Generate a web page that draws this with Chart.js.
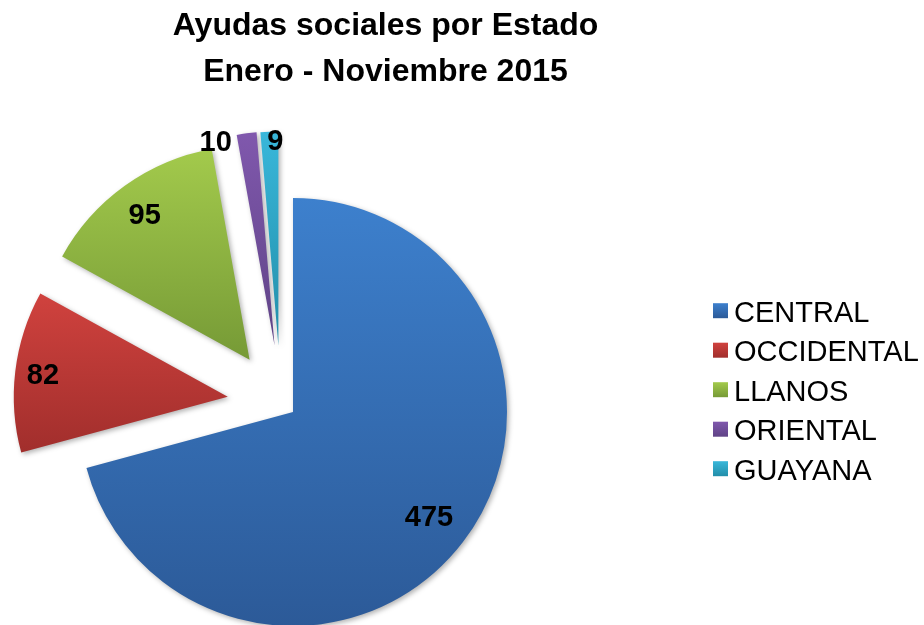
<!DOCTYPE html>
<html>
<head>
<meta charset="utf-8">
<title>Ayudas sociales por Estado</title>
<script src="https://cdn.jsdelivr.net/npm/chart.js@4.4.0/dist/chart.umd.min.js"></script>
<style>
  html, body { margin: 0; padding: 0; background: #fff; }
  #wrap { position: relative; width: 924px; height: 625px; }
</style>
</head>
<body>
<div id="wrap"><canvas id="pie-chart"></canvas></div>
<script>
// data
const regions = ['CENTRAL', 'OCCIDENTAL', 'LLANOS', 'ORIENTAL', 'GUAYANA'];
const ayudas = [475, 82, 95, 10, 9];
const titleLines = ['Ayudas sociales por Estado', 'Enero - Noviembre 2015'];

// gradient fill: lighter on top, darker at the bottom
const colorsTop = ['#3d80cd', '#d0423e', '#a3ca4c', '#8058ad', '#39b7da'];
const colorsBottom = ['#2c5a98', '#a12e2c', '#769a36', '#5f4386', '#228ea9'];

// exploded slices: distance in px and a small tilt in degrees
const explodeDist = [0, 67, 68, 69, 68];
const explodeTilt = [0, 6.4, -4, -8, -10];

// where the value labels sit (fraction of the radius, and which edge)
const labelRadius = [0.80, 0.87, 0.84, 0.97, 0.96];
const labelAnchor = ['mid', 'mid', 'mid', 'start', 'end'];

const fontFamily = '"Liberation Sans", Arial, sans-serif';

const excelPie = {
    id: 'excelPie',
    afterDatasetUpdate(chart, args) {
        args.meta.data.forEach((arc, i) => {
            const d = explodeDist[i];
            if (!d) return;
            const a = (arc.startAngle + arc.endAngle) / 2 + explodeTilt[i] * Math.PI / 180;
            arc.x += Math.cos(a) * d;
            arc.y += Math.sin(a) * d;
        });
    },
    beforeDatasetsDraw(chart) {
        const ctx = chart.ctx;
        const meta = chart.getDatasetMeta(0);
        meta.data.forEach((arc, i) => {
            // vertical extent of the slice for its own gradient
            let top = arc.y, bottom = arc.y;
            for (let k = 0; k <= 40; k++) {
                const t = arc.startAngle + (arc.endAngle - arc.startAngle) * k / 40;
                const y = arc.y + Math.sin(t) * arc.outerRadius;
                top = Math.min(top, y);
                bottom = Math.max(bottom, y);
            }
            const g = ctx.createLinearGradient(0, top, 0, bottom);
            g.addColorStop(0, colorsTop[i]);
            g.addColorStop(1, colorsBottom[i]);
            arc.options = Object.assign({}, arc.options, { backgroundColor: g });
        });
        ctx.save();
        ctx.shadowColor = 'rgba(0, 0, 0, 0.3)';
        ctx.shadowBlur = 5;
        ctx.shadowOffsetX = 2;
        ctx.shadowOffsetY = 2;
    },
    afterDatasetsDraw(chart) {
        const ctx = chart.ctx;
        ctx.restore();

        // value labels
        const meta = chart.getDatasetMeta(0);
        ctx.save();
        ctx.font = 'bold 29px ' + fontFamily;
        ctx.fillStyle = '#000';
        ctx.textBaseline = 'alphabetic';
        meta.data.forEach((arc, i) => {
            const r = arc.outerRadius * labelRadius[i];
            let a = (arc.startAngle + arc.endAngle) / 2;
            let shift = 0;
            ctx.textAlign = 'center';
            if (labelAnchor[i] === 'start') {
                a = arc.startAngle;
                shift = -6;
                ctx.textAlign = 'right';
            } else if (labelAnchor[i] === 'end') {
                a = arc.endAngle;
                shift = -3;
            }
            const x = arc.x + Math.cos(a) * r + shift;
            const y = arc.y + Math.sin(a) * r + 10;
            ctx.fillText(String(chart.data.datasets[0].data[i]), x, y);
        });
        ctx.restore();
    },
    afterDraw(chart) {
        const ctx = chart.ctx;
        ctx.save();

        // title, two lines
        ctx.fillStyle = '#000';
        ctx.font = 'bold 32px ' + fontFamily;
        ctx.textAlign = 'center';
        ctx.textBaseline = 'alphabetic';
        ctx.fillText(titleLines[0], 385.5, 35);
        ctx.fillText(titleLines[1], 385.5, 81);

        // legend
        ctx.font = '29px ' + fontFamily;
        ctx.textAlign = 'left';
        chart.data.labels.forEach((label, i) => {
            const base = 321.7 + i * 39.5;
            const boxTop = base - 18.5;
            const g = ctx.createLinearGradient(0, boxTop, 0, boxTop + 15);
            g.addColorStop(0, colorsTop[i]);
            g.addColorStop(1, colorsBottom[i]);
            ctx.fillStyle = g;
            ctx.fillRect(713, boxTop, 15, 15);
            ctx.fillStyle = '#000';
            ctx.fillText(label, 734, base);
        });
        ctx.restore();
    }
};

const ctx = document.getElementById('pie-chart').getContext('2d');
new Chart(ctx, {
    type: 'pie',
    data: {
        labels: regions,
        datasets: [{
            data: ayudas,
            backgroundColor: colorsTop,
            borderWidth: 0,
            hoverOffset: 0
        }]
    },
    options: {
        responsive: true,
        maintainAspectRatio: false,
        animation: false,
        events: [],
        radius: 214,
        clip: false,
        layout: {
            padding: { left: 79, right: 417, top: 199, bottom: 0 }
        },
        plugins: {
            legend: { display: false },
            title: { display: false },
            tooltip: { enabled: false }
        }
    },
    plugins: [excelPie]
});
</script>
</body>
</html>
